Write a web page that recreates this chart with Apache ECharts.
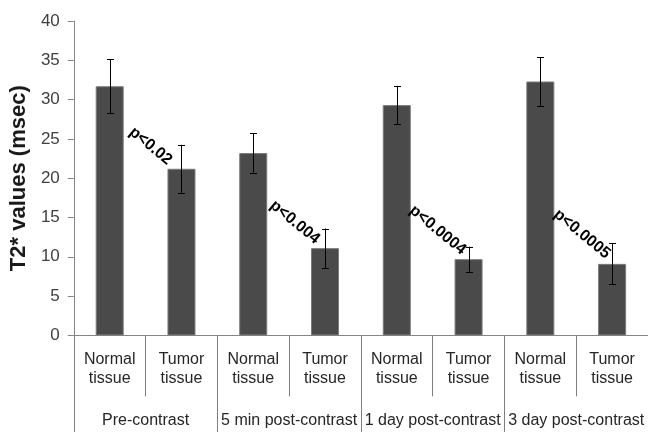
<!DOCTYPE html>
<html>
<head>
<meta charset="utf-8">
<script src="https://cdn.jsdelivr.net/npm/echarts@6/dist/echarts.min.js"></script>
<style>html,body{margin:0;padding:0;background:#fff}#c{width:648px;height:432px}</style>
</head>
<body>
<div id="c"></div>
<script>
var categories = ['Normal\ntissue','Tumor\ntissue','Normal\ntissue','Tumor\ntissue','Normal\ntissue','Tumor\ntissue','Normal\ntissue','Tumor\ntissue'];
var groups = ['Pre-contrast','5 min post-contrast','1 day post-contrast','3 day post-contrast'];
var values = [31.7, 21.2, 23.2, 11.1, 29.3, 9.7, 32.3, 9.1];
var errors = [3.45, 3.05, 2.5, 2.5, 2.45, 1.6, 3.1, 2.6];
var pLabels = ['p<0.02','p<0.004','p<0.0004','p<0.0005'];
var pLabelX = [1.07, 3.08, 5.07, 7.08];
var pLabelY = [24.1, 14.4, 13.4, 12.9];
var yTicks = [0,5,10,15,20,25,30,35,40];

var FONT = '"Liberation Sans", Arial, sans-serif';
var errData = values.map(function(v,i){ return [i, v - errors[i], v + errors[i]]; });
var pData = pLabels.map(function(t,i){ return [pLabelX[i], pLabelY[i], t]; });

var chart = echarts.init(document.getElementById('c'), null, {renderer:'canvas'});
chart.setOption({
  animation: false,
  backgroundColor: '#fff',
  grid: {left: 71, right: 0, top: 21, bottom: 96.6, containLabel: false},
  xAxis: [
    {type:'category', data: categories, position:'bottom',
     axisLine:{show:true, lineStyle:{color:'#868686', width:1}},
     axisTick:{show:true, length:61, interval:0, lineStyle:{color:'#7f7f7f'}},
     axisLabel:{interval:0, fontFamily:FONT, fontSize:16, color:'#262626', lineHeight:18.5, margin:15}},
    {type:'category', data: groups, position:'bottom', offset:0,
     axisLine:{show:false},
     axisTick:{show:true, length:97, interval:0, lineStyle:{color:'#7f7f7f'}},
     axisLabel:{interval:0, fontFamily:FONT, fontSize:16, color:'#262626', margin:77}},
    {type:'value', min:0, max:8, show:false}
  ],
  yAxis: {type:'value', min:0, max:40, interval:5,
    name:'T2* values (msec)', nameLocation:'middle', nameGap:33, nameRotate:90,
    nameTextStyle:{fontFamily:FONT, fontSize:22, fontWeight:'bold', color:'#1a1a1a'},
    axisLine:{show:true, lineStyle:{color:'#868686'}},
    axisTick:{show:true, length:6, lineStyle:{color:'#868686'}},
    splitLine:{show:false},
    axisLabel:{fontFamily:FONT, fontSize:17, color:'#404040', margin:14,
      formatter:function(v){ return yTicks.indexOf(v) >= 0 ? String(v) : ''; }}
  },
  series: [
    {type:'bar', xAxisIndex:0, data: values, barWidth:28,
     itemStyle:{color:'#4a4a4a', borderColor:'#7a7a7a', borderWidth:1}},
    {type:'custom', xAxisIndex:0, data: errData, z:5,
     renderItem:function(params, api){
       var x = api.value(0);
       var lo = api.coord([x, api.value(1)]);
       var hi = api.coord([x, api.value(2)]);
       var cx = Math.round(lo[0]) + 0.5;
       var h = 3.5;
       var st = {stroke:'#000', lineWidth:1};
       return {type:'group', children:[
         {type:'line', shape:{x1:cx, y1:hi[1], x2:cx, y2:lo[1]}, style:st},
         {type:'line', shape:{x1:cx-h, y1:Math.round(hi[1])+0.5, x2:cx+h, y2:Math.round(hi[1])+0.5}, style:st},
         {type:'line', shape:{x1:cx-h, y1:Math.round(lo[1])+0.5, x2:cx+h, y2:Math.round(lo[1])+0.5}, style:st}
       ]};
     }},
    {type:'custom', xAxisIndex:2, data: pData, z:6,
     renderItem:function(params, api){
       var p = api.coord([api.value(0), api.value(1)]);
       return {type:'text', x:p[0], y:p[1], rotation:-39.5*Math.PI/180,
         style:{text: pLabels[params.dataIndex], x:0, y:0, align:'center', verticalAlign:'middle',
           fontFamily:FONT, fontSize:16, fontWeight:'bold', fill:'#000'}};
     }}
  ]
});
</script>
</body>
</html>
